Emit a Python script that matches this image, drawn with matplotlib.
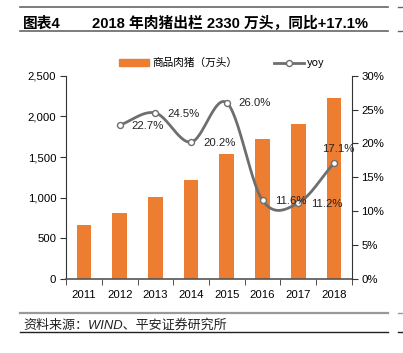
import numpy as np
import matplotlib
matplotlib.use("Agg")
import matplotlib.pyplot as plt
from matplotlib.lines import Line2D

plt.rcParams['font.family'] = ['Liberation Sans', 'Noto Sans CJK SC', 'DejaVu Sans']

years = ["2011", "2012", "2013", "2014", "2015", "2016", "2017", "2018"]
hogs = [668, 815, 1012, 1217, 1537, 1718, 1906, 2229]
yoy = [None, 22.7, 24.5, 20.2, 26.0, 11.6, 11.2, 17.1]
yoy_labels = ["", "22.7%", "24.5%", "20.2%", "26.0%", "11.6%", "11.2%", "17.1%"]

bar_color = "#ED7D31"
line_color = "#6E6E6E"


def catmull_rom(xs, ys, n=30):
    # smooth curve through the points, like a spreadsheet "smoothed line"
    px = np.r_[2*xs[0] - xs[1], xs, 2*xs[-1] - xs[-2]]
    py = np.r_[2*ys[0] - ys[1], ys, 2*ys[-1] - ys[-2]]
    outx, outy = [], []
    for i in range(1, len(px) - 2):
        t = np.linspace(0, 1, n)
        for p, out in ((px, outx), (py, outy)):
            p0, p1, p2, p3 = p[i-1], p[i], p[i+1], p[i+2]
            out.extend(0.5 * ((2*p1) + (-p0 + p2)*t
                              + (2*p0 - 5*p1 + 4*p2 - p3)*t**2
                              + (-p0 + 3*p1 - 3*p2 + p3)*t**3))
    return np.array(outx), np.array(outy)


fig = plt.figure(figsize=(4.03, 3.53), dpi=100)
ax = fig.add_axes([0.164, 0.2096, 0.709, 0.576])
x = np.arange(len(years))
ax.bar(x, hogs, width=0.41, color=bar_color, zorder=2)
ax.set_xlim(-0.5, len(years) - 0.5)
ax.set_ylim(0, 2500)
ax.set_yticks(range(0, 2501, 500))
ax.set_yticklabels(["{:,}".format(v) for v in range(0, 2501, 500)], fontsize=8.2)
ax.set_xticks(x)
ax.set_xticklabels(years, fontsize=8.2)
ax.set_xticks(np.arange(-0.5, len(years)), minor=True)
ax.tick_params(axis="x", which="major", length=0, pad=8)
ax.tick_params(axis="x", which="minor", length=4, direction="out", color="#333333")
ax.tick_params(axis="y", length=4, direction="out", color="#333333", pad=3)
for s in ("top", "right"):
    ax.spines[s].set_visible(False)
ax.spines["left"].set_color("#333333")
ax.spines["bottom"].set_color("#555555")
ax.spines["bottom"].set_linewidth(1.2)

ax2 = ax.twinx()
ax2.set_ylim(0, 30)
ax2.set_yticks(range(0, 31, 5))
ax2.set_yticklabels(["{}%".format(v) for v in range(0, 31, 5)], fontsize=8.2)
ax2.tick_params(axis="y", length=4, direction="out", color="#333333", pad=3)
for s in ("top", "left", "bottom"):
    ax2.spines[s].set_visible(False)
ax2.spines["right"].set_color("#333333")

xs = np.array([i for i, v in enumerate(yoy) if v is not None], dtype=float)
ys = np.array([v for v in yoy if v is not None], dtype=float)
cx, cy = catmull_rom(xs, ys)
ax2.plot(cx, cy, color=line_color, lw=2, zorder=3)
ax2.plot(xs, ys, "o", ms=4.3, mfc="white", mec=line_color, mew=1, zorder=4)

for i, lab in enumerate(yoy_labels):
    if not lab:
        continue
    dx, dy = (0.12, 2.1) if i == len(years) - 1 else (0.79, -0.1)
    ax2.text(i + dx, yoy[i] + dy, lab, fontsize=8.2,
             ha="center", va="center", color="#222222", zorder=5)

handles = [plt.Rectangle((0, 0), 1, 1, color=bar_color),
           Line2D([0], [0], color=line_color, lw=2, marker="o", ms=4.3,
                  mfc="white", mec=line_color)]
fig.legend(handles, ["商品肉猪（万头）", "yoy"], loc="center", ncol=2,
           bbox_to_anchor=(0.551, 0.8215), frameon=False,
           handlelength=2.8, handleheight=0.55, columnspacing=3.4,
           handletextpad=0.3, borderaxespad=0, borderpad=0,
           prop={"family": ["Noto Sans CJK SC"], "size": 7.7})

# header and footer
for yy in (0.981, 0.912):
    fig.add_artist(Line2D([0.05, 0.963], [yy, yy], color="#666666", lw=1.2))
    fig.add_artist(Line2D([0.988, 1.0], [yy, yy], color="#666666", lw=1))
fig.text(0.057, 0.934, "图表4", fontsize=10.6, fontweight="bold", va="center",
         family=["Liberation Sans", "Noto Sans CJK SC"])
fig.text(0.228, 0.934, "2018 年肉猪出栏 2330 万头，同比+17.1%", fontsize=10.6,
         fontweight="bold", va="center",
         family=["Liberation Sans", "Noto Sans CJK SC"])
fig.add_artist(Line2D([0.05, 0.963], [0.1125, 0.1125], color="#999999", lw=1.6))
fig.add_artist(Line2D([0.05, 0.963], [0.0586, 0.0586], color="#222222", lw=1))
fig.add_artist(Line2D([0.988, 1.0], [0.1125, 0.1125], color="#999999", lw=1))
fig.add_artist(Line2D([0.988, 1.0], [0.0586, 0.0586], color="#222222", lw=1))
fig.text(0.058, 0.079, "资料来源：WIND、平安证券研究所", fontsize=9.4, style="italic",
         family=["Liberation Sans", "Noto Sans CJK SC"], va="center",
         color="#222222")

fig.savefig("out.png", dpi=100)
